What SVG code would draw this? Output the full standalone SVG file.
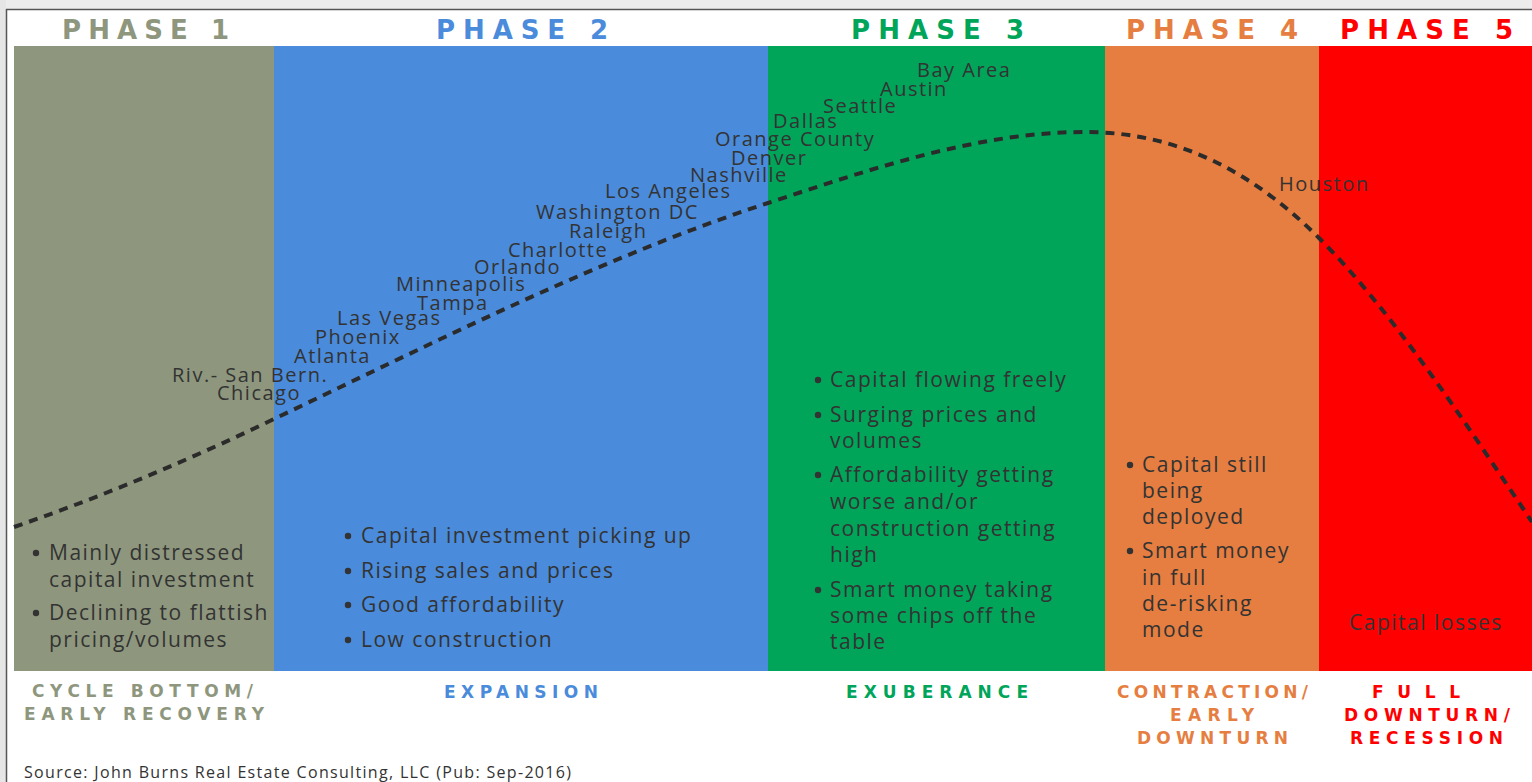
<svg xmlns="http://www.w3.org/2000/svg" width="1532" height="782" viewBox="0 0 1532 782">
<style>
.hdr{font-family:"DejaVu Sans","Liberation Sans",sans-serif;font-weight:bold;font-size:26px}
.lbl{font-family:"DejaVu Sans","Liberation Sans",sans-serif;font-weight:bold;font-size:17px}
.city{font-family:"Open Sans",sans-serif;font-weight:500;font-size:20px;fill:#333;letter-spacing:1.5px}
.bul{font-family:"Open Sans",sans-serif;font-weight:500;font-size:21px;fill:#333;letter-spacing:1.5px}
.dot{fill:#333}
.src{font-family:"Open Sans",sans-serif;font-size:16px;fill:#333}
.curve{fill:none;stroke:#2b2b2b;stroke-width:4;stroke-dasharray:9 7}
.c1{fill:#8E977D}.c2{fill:#4A8BDB}.c3{fill:#00A55A}.c4{fill:#E57E40}.c5{fill:#FF0000}
</style>
<rect x="0" y="0" width="1532" height="782" fill="#ffffff"/>
<rect x="0" y="0" width="1532" height="9" fill="#ececec"/>
<rect x="0" y="0" width="6" height="782" fill="#e6e6e6"/>
<line x1="6" y1="9.5" x2="1532" y2="9.5" stroke="#555" stroke-width="1.5"/>
<line x1="6.5" y1="9" x2="6.5" y2="782" stroke="#555" stroke-width="1.5"/>

<g id="phase1">
<rect class="c1" x="14" y="46" width="260" height="625"/>
<text class="hdr c1" x="62" y="39" textLength="167" lengthAdjust="spacing">PHASE 1</text>
<circle class="dot" cx="36" cy="553" r="3.2"/><circle class="dot" cx="36" cy="613" r="3.2"/>
<text class="bul"><tspan x="49" y="560">Mainly distressed</tspan><tspan x="49" y="587">capital investment</tspan><tspan x="49" y="620">Declining to flattish</tspan><tspan x="49" y="647">pricing/volumes</tspan></text>
<text class="lbl c1" x="32" y="697" textLength="221" lengthAdjust="spacing">CYCLE BOTTOM/</text>
<text class="lbl c1" x="24" y="720" textLength="240" lengthAdjust="spacing">EARLY RECOVERY</text>
</g>

<g id="phase2">
<rect class="c2" x="274" y="46" width="494" height="625"/>
<text class="hdr c2" x="436" y="39" textLength="172" lengthAdjust="spacing">PHASE 2</text>
<circle class="dot" cx="348" cy="536" r="3.2"/><circle class="dot" cx="348" cy="571" r="3.2"/><circle class="dot" cx="348" cy="605" r="3.2"/><circle class="dot" cx="348" cy="640" r="3.2"/>
<text class="bul"><tspan x="361" y="543">Capital investment picking up</tspan><tspan x="361" y="578">Rising sales and prices</tspan><tspan x="361" y="612">Good affordability</tspan><tspan x="361" y="647">Low construction</tspan></text>
<text class="lbl c2" x="444" y="698" textLength="154" lengthAdjust="spacing">EXPANSION</text>
</g>

<g id="phase3">
<rect class="c3" x="768" y="46" width="337" height="625"/>
<text class="hdr c3" x="851" y="39" textLength="173" lengthAdjust="spacing">PHASE 3</text>
<circle class="dot" cx="818" cy="380" r="3.2"/><circle class="dot" cx="818" cy="415" r="3.2"/><circle class="dot" cx="818" cy="475" r="3.2"/><circle class="dot" cx="818" cy="590" r="3.2"/>
<text class="bul"><tspan x="830" y="387">Capital flowing freely</tspan><tspan x="830" y="422">Surging prices and</tspan><tspan x="830" y="448">volumes</tspan><tspan x="830" y="482">Affordability getting</tspan><tspan x="830" y="509">worse and/or</tspan><tspan x="830" y="536">construction getting</tspan><tspan x="830" y="562">high</tspan><tspan x="830" y="597">Smart money taking</tspan><tspan x="830" y="623">some chips off the</tspan><tspan x="830" y="649">table</tspan></text>
<text class="lbl c3" x="846" y="698" textLength="182" lengthAdjust="spacing">EXUBERANCE</text>
</g>

<g id="phase4">
<rect class="c4" x="1105" y="46" width="214" height="625"/>
<text class="hdr c4" x="1126" y="39" textLength="172" lengthAdjust="spacing">PHASE 4</text>
<circle class="dot" cx="1130" cy="465" r="3.2"/><circle class="dot" cx="1130" cy="551" r="3.2"/>
<text class="bul"><tspan x="1142" y="472">Capital still</tspan><tspan x="1142" y="498">being</tspan><tspan x="1142" y="524">deployed</tspan><tspan x="1142" y="558">Smart money</tspan><tspan x="1142" y="585">in full</tspan><tspan x="1142" y="611">de-risking</tspan><tspan x="1142" y="637">mode</tspan></text>
<text class="lbl c4" x="1117" y="698" textLength="191" lengthAdjust="spacing">CONTRACTION/</text>
<text class="lbl c4" x="1170" y="721" textLength="84" lengthAdjust="spacing">EARLY</text>
<text class="lbl c4" x="1137" y="744" textLength="151" lengthAdjust="spacing">DOWNTURN</text>
</g>

<g id="phase5">
<rect class="c5" x="1319" y="46" width="213" height="625"/>
<text class="hdr c5" x="1340" y="39" textLength="173" lengthAdjust="spacing">PHASE 5</text>
<text class="bul" x="1349" y="630">Capital losses</text>
<text class="lbl c5" x="1372" y="698" textLength="88" lengthAdjust="spacing">FULL</text>
<text class="lbl c5" x="1344" y="721" textLength="166" lengthAdjust="spacing">DOWNTURN/</text>
<text class="lbl c5" x="1350" y="744" textLength="153" lengthAdjust="spacing">RECESSION</text>
</g>

<g id="connectors">
<path class="curve" d="M14,527 C101,497 187,461 274,419 C439,340 603,257 768,203 C874,168 979,132 1085,132 C1163,132 1241,160 1319,238 C1390,309 1461,416 1532,522"/>
</g>

<g id="cities">
<text class="city" x="917" y="77">Bay Area</text>
<text class="city" x="880" y="96">Austin</text>
<text class="city" x="823" y="113">Seattle</text>
<text class="city" x="773" y="128">Dallas</text>
<text class="city" x="715" y="146">Orange County</text>
<text class="city" x="731" y="165">Denver</text>
<text class="city" x="690" y="182">Nashville</text>
<text class="city" x="605" y="198">Los Angeles</text>
<text class="city" x="536" y="219">Washington DC</text>
<text class="city" x="569" y="238">Raleigh</text>
<text class="city" x="508" y="257">Charlotte</text>
<text class="city" x="474" y="274">Orlando</text>
<text class="city" x="396" y="291">Minneapolis</text>
<text class="city" x="417" y="310">Tampa</text>
<text class="city" x="337" y="325">Las Vegas</text>
<text class="city" x="315" y="344">Phoenix</text>
<text class="city" x="294" y="363">Atlanta</text>
<text class="city" x="172" y="382">Riv.- San Bern.</text>
<text class="city" x="217" y="400">Chicago</text>
<text class="city" x="1279" y="191">Houston</text>
</g>

<text class="src" x="24" y="778" textLength="547" lengthAdjust="spacing">Source: John Burns Real Estate Consulting, LLC (Pub: Sep-2016)</text>
</svg>
